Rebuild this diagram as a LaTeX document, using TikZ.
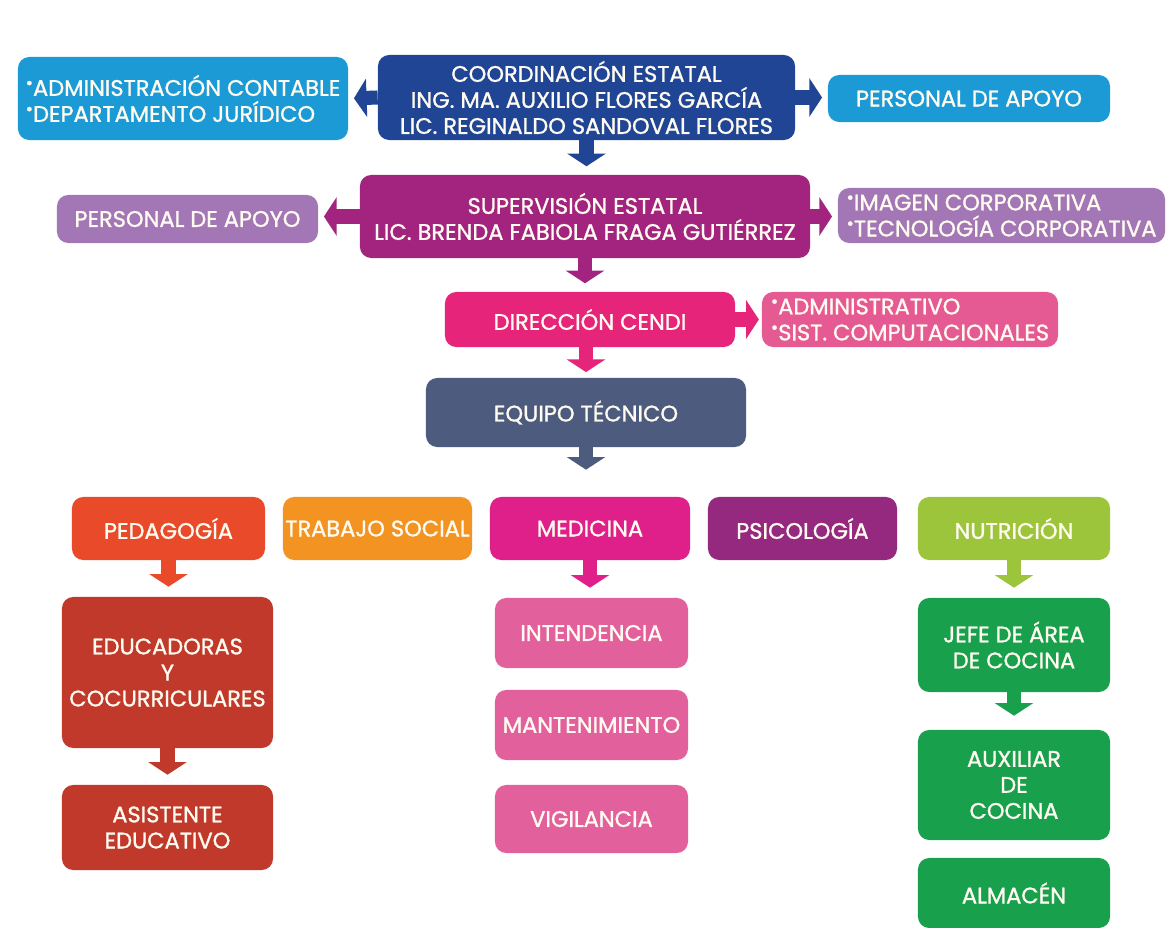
\documentclass[tikz,border=0pt]{standalone}
\usepackage{fontspec}
\setmainfont{Poppins}
\newfontfamily\cajafont[FakeBold=1.2]{Poppins}
\usetikzlibrary{arrows.meta}
\definecolor{cian}{RGB}{27,154,214}
\definecolor{azul}{RGB}{31,69,148}
\definecolor{magenta}{RGB}{162,36,127}
\definecolor{lila}{RGB}{163,119,181}
\definecolor{rosa}{RGB}{230,36,122}
\definecolor{rosaclaro}{RGB}{229,90,146}
\definecolor{pizarra}{RGB}{77,91,126}
\definecolor{rojo}{RGB}{232,74,42}
\definecolor{naranja}{RGB}{243,147,34}
\definecolor{fucsia}{RGB}{224,32,138}
\definecolor{morado}{RGB}{149,40,127}
\definecolor{lima}{RGB}{156,197,60}
\definecolor{rojooscuro}{RGB}{193,57,43}
\definecolor{rosapalido}{RGB}{226,97,157}
\definecolor{verde}{RGB}{24,160,76}
\definecolor{crema}{RGB}{255,251,240}
\newcommand{\punto}{\raisebox{.3em}{\scalebox{.8}{\textbullet}}}
\tikzset{
  caja/.style={rounded corners=8pt,inner sep=0pt,text=crema,align=center,
    font=\cajafont\fontsize{16}{18.5}\selectfont},
  flecha/.style={line width=10pt,-{Triangle[width=27pt,length=9pt]},shorten >=#1},
  flecha/.default=4pt
}
\begin{document}
\begin{tikzpicture}[x=0.025cm,y=-0.025cm]
\useasboundingbox (0,0) rectangle (1167,928);
% primer nivel
\node (coord) at (586.5,97.5)[caja,fill=azul,minimum width=10.425cm,minimum height=2.125cm]{COORDINACIÓN ESTATAL\\ING. MA. AUXILIO FLORES GARCÍA\\LIC. REGINALDO SANDOVAL FLORES};
\node (admin) at (183,98.5)[caja,fill=cian,minimum width=8.25cm,minimum height=2.075cm,align=left]{\punto ADMINISTRACIÓN CONTABLE\\\punto DEPARTAMENTO JURÍDICO};
\node (apoyoa) at (969,98.5)[caja,fill=cian,minimum width=7.05cm,minimum height=1.175cm]{PERSONAL DE APOYO};
% supervision
\node (sup) at (585,216.5)[caja,fill=magenta,minimum width=11.25cm,minimum height=2.075cm]{SUPERVISIÓN ESTATAL\\LIC. BRENDA FABIOLA FRAGA GUTIÉRREZ};
\node (apoyob) at (187.5,219)[caja,fill=lila,minimum width=6.525cm,minimum height=1.2cm]{PERSONAL DE APOYO};
\node (imagen) at (1001.5,215.5)[caja,fill=lila,minimum width=8.175cm,minimum height=1.375cm,align=left]{\punto IMAGEN CORPORATIVA\\\punto TECNOLOGÍA CORPORATIVA};
% direccion
\node (dir) at (590,319.5)[caja,fill=rosa,minimum width=7.25cm,minimum height=1.375cm]{DIRECCIÓN CENDI};
\node (sist) at (910,319.5)[caja,fill=rosaclaro,minimum width=7.4cm,minimum height=1.375cm,align=left]{\punto ADMINISTRATIVO\\\punto SIST. COMPUTACIONALES};
\node (equipo) at (586,412.5)[caja,fill=pizarra,minimum width=8cm,minimum height=1.725cm]{EQUIPO TÉCNICO};
% areas
\node (ped) at (168.5,528.5)[caja,fill=rojo,minimum width=4.825cm,minimum height=1.575cm]{PEDAGOGÍA};
\node (trab) at (377.5,528.5)[caja,fill=naranja,minimum width=4.725cm,minimum height=1.575cm]{TRABAJO SOCIAL};
\node (med) at (590,528.5)[caja,fill=fucsia,minimum width=5cm,minimum height=1.575cm]{MEDICINA};
\node (psi) at (802.5,528.5)[caja,fill=morado,minimum width=4.725cm,minimum height=1.575cm]{PSICOLOGÍA};
\node (nut) at (1014,528.5)[caja,fill=lima,minimum width=4.8cm,minimum height=1.575cm]{NUTRICIÓN};
% columnas
\node (edu) at (167.5,672.5)[caja,fill=rojooscuro,minimum width=5.275cm,minimum height=3.775cm]{EDUCADORAS\\Y\\COCURRICULARES};
\node (asis) at (167.5,827.5)[caja,fill=rojooscuro,minimum width=5.275cm,minimum height=2.125cm]{ASISTENTE\\EDUCATIVO};
\node (int) at (591.5,633)[caja,fill=rosapalido,minimum width=4.825cm,minimum height=1.75cm]{INTENDENCIA};
\node (man) at (591.5,725)[caja,fill=rosapalido,minimum width=4.825cm,minimum height=1.75cm]{MANTENIMIENTO};
\node (vig) at (591.5,819)[caja,fill=rosapalido,minimum width=4.825cm,minimum height=1.7cm]{VIGILANCIA};
\node (jefe) at (1014,645)[caja,fill=verde,minimum width=4.8cm,minimum height=2.35cm]{JEFE DE ÁREA\\DE COCINA};
\node (aux) at (1014,785)[caja,fill=verde,minimum width=4.8cm,minimum height=2.75cm]{AUXILIAR\\DE\\COCINA};
\node (alm) at (1014,893)[caja,fill=verde,minimum width=4.8cm,minimum height=1.75cm]{ALMACÉN};
% flechas
\draw[flecha,azul] (coord.west) -- (admin.east);
\draw[flecha,azul] (coord.east) -- (coord.east -| apoyoa.west);
\draw[flecha=6pt,azul] (coord.south) -- (coord.south |- sup.north);
\draw[flecha,magenta] (sup.west) -- (sup.west -| apoyob.east);
\draw[flecha,magenta] (sup.east) -- (sup.east -| imagen.west);
\draw[flecha=6pt,magenta] (sup.south) -- (sup.south |- dir.north);
\draw[flecha=2pt,rosa] (dir.east) -- (sist.west);
\draw[flecha=4pt,rosa] (dir.south -| equipo.north) -- (equipo.north);
\draw[flecha=0.675cm,pizarra] (equipo.south) -- (equipo.south |- med.north);
\draw[flecha=0.25cm,rojo] (ped.south) -- (ped.south |- edu.north);
\draw[flecha=0.25cm,fucsia] (med.south) -- (med.south |- int.north);
\draw[flecha=0.25cm,lima] (nut.south) -- (jefe.north);
\draw[flecha=0.25cm,rojooscuro] (edu.south) -- (asis.north);
\draw[flecha=0.35cm,verde] (jefe.south) -- (aux.north);
\end{tikzpicture}
\end{document}
